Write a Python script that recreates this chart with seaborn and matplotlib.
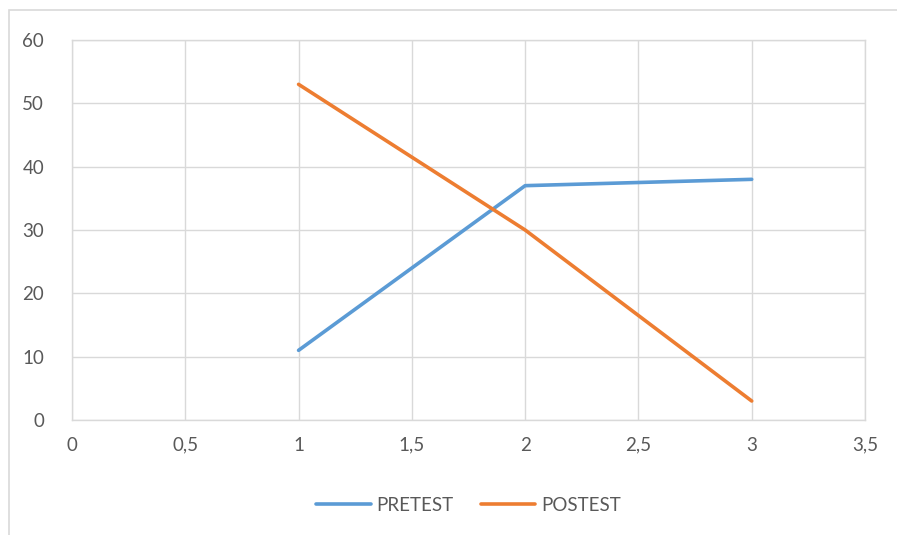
import pandas as pd
import numpy as np
import matplotlib.pyplot as plt
import matplotlib.patches as patches
import seaborn as sns

# values
x_vals = [1, 2, 3]
pretest = [11, 37, 38]
postest = [53, 30, 3]
series_names = ['PRETEST', 'POSTEST']
x_ticks = [0, 0.5, 1, 1.5, 2, 2.5, 3, 3.5]
y_ticks = [0, 10, 20, 30, 40, 50, 60]

df = pd.DataFrame({
    'x': x_vals * 2,
    'value': pretest + postest,
    'series': [series_names[0]] * 3 + [series_names[1]] * 3,
})

sns.set_style('white')
plt.rcParams['font.family'] = ['Lato', 'DejaVu Sans']
text_col = '#595959'
grid_col = '#d9d9d9'

fig = plt.figure(figsize=(8.97, 5.35), dpi=100)
ax = fig.add_axes([72 / 897, 1 - 420 / 535, (865 - 72) / 897, (420 - 40) / 535])

sns.lineplot(data=df, x='x', y='value', hue='series',
             palette=['#5B9BD5', '#ED7D31'], linewidth=2.6, ax=ax,
             sort=False, legend=True)

ax.set_xlim(0, 3.5)
ax.set_ylim(0, 60)
ax.set_xticks(x_ticks)
ax.set_yticks(y_ticks)
ax.set_xticklabels([f'{t:g}'.replace('.', ',') for t in x_ticks])
ax.set_yticklabels([str(t) for t in y_ticks])
ax.tick_params(axis='both', length=0, labelsize=13.5, colors=text_col)
ax.tick_params(axis='x', pad=12)
ax.tick_params(axis='y', pad=20)
ax.grid(True, color=grid_col, linewidth=1)
ax.set_axisbelow(True)
for s in ax.spines.values():
    s.set_color(grid_col)
    s.set_linewidth(1)
ax.set_xlabel('')
ax.set_ylabel('')

leg = ax.legend(loc='center', bbox_to_anchor=(0.5, -0.225), ncol=2, frameon=False,
                fontsize=13.5, handlelength=2.9, columnspacing=1.45, handletextpad=0.3)
for t in leg.get_texts():
    t.set_color(text_col)

# outer chart border
fig.patches.append(patches.Rectangle((9 / 897, -0.05), 1.0, 1 - 10 / 535 + 0.05,
                                     transform=fig.transFigure, fill=False,
                                     edgecolor=grid_col, linewidth=1.2))

fig.savefig('out.png', dpi=100)
